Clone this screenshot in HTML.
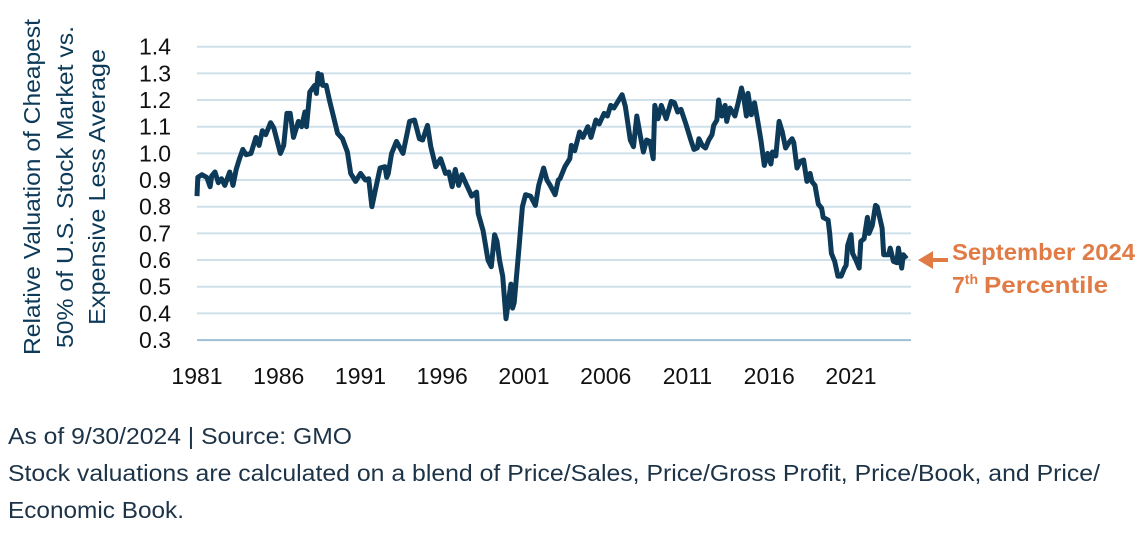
<!DOCTYPE html>
<html><head><meta charset="utf-8"><style>
body{margin:0;background:#fff;width:1148px;height:540px;overflow:hidden;font-family:"Liberation Sans Narrow","Liberation Sans",sans-serif;}
svg text{font-family:"Liberation Sans Narrow","Liberation Sans",sans-serif;}
</style></head><body>
<svg id="chart" width="1148" height="540">
<g id="grid"></g>
<g id="yt"></g>
<g id="xt"></g>
<path id="line" fill="none" stroke="#0c3a58" stroke-width="5" stroke-linejoin="round"/>
<g fill="#0c3a58" font-size="23" text-anchor="middle">
<text transform="translate(40,187) rotate(-90)" textLength="336" lengthAdjust="spacingAndGlyphs">Relative Valuation of Cheapest</text>
<text transform="translate(73,187) rotate(-90)" textLength="322" lengthAdjust="spacingAndGlyphs">50% of U.S. Stock Market vs.</text>
<text transform="translate(105,187) rotate(-90)" textLength="276" lengthAdjust="spacingAndGlyphs">Expensive Less Average</text>
</g>
<g>
<line x1="930" y1="260" x2="948" y2="260" stroke="#e07b45" stroke-width="4"/>
<polygon points="918,260 933,251 933,269" fill="#e07b45"/>
</g>
<text x="952" y="260" fill="#e07b45" font-size="23" font-weight="bold" textLength="183" lengthAdjust="spacingAndGlyphs">September 2024</text>
<text x="952" y="293" fill="#e07b45" font-size="23" font-weight="bold">7<tspan font-size="14" dy="-9">th</tspan><tspan dy="9" x="984" textLength="124" lengthAdjust="spacingAndGlyphs">Percentile</tspan></text>
<g fill="#1d3347" font-size="23">
<text x="8" y="444" textLength="344" lengthAdjust="spacingAndGlyphs">As of 9/30/2024 | Source: GMO</text>
<text x="8" y="481" textLength="1092" lengthAdjust="spacingAndGlyphs">Stock valuations are calculated on a blend of Price/Sales, Price/Gross Profit, Price/Book, and Price/</text>
<text x="8" y="518" textLength="176" lengthAdjust="spacingAndGlyphs">Economic Book.</text>
</g>
</svg>
<script>
const years=[1981.0,1981.05,1981.3,1981.6,1981.8,1981.9,1982.1,1982.3,1982.5,1982.7,1983.0,1983.2,1983.4,1983.6,1983.8,1984.0,1984.3,1984.6,1984.8,1985.0,1985.2,1985.5,1985.7,1986.1,1986.3,1986.5,1986.7,1986.9,1987.2,1987.4,1987.6,1987.7,1987.9,1988.2,1988.3,1988.4,1988.5,1988.6,1988.7,1988.9,1989.1,1989.3,1989.6,1989.9,1990.2,1990.4,1990.7,1991.0,1991.3,1991.5,1991.7,1991.9,1992.2,1992.5,1992.6,1992.7,1992.9,1993.2,1993.6,1994.0,1994.3,1994.6,1994.8,1995.1,1995.3,1995.6,1995.9,1996.2,1996.4,1996.6,1996.8,1997.0,1997.2,1997.5,1997.8,1998.1,1998.2,1998.5,1998.8,1999.0,1999.2,1999.35,1999.5,1999.7,1999.9,2000.0,2000.2,2000.3,2000.4,2000.7,2000.9,2001.1,2001.4,2001.7,2001.9,2002.2,2002.4,2002.6,2002.9,2003.1,2003.2,2003.5,2003.8,2003.9,2004.1,2004.4,2004.6,2004.9,2005.1,2005.4,2005.6,2005.9,2006.1,2006.3,2006.5,2006.8,2007.0,2007.2,2007.5,2007.7,2007.9,2008.1,2008.3,2008.5,2008.7,2008.9,2009.0,2009.2,2009.4,2009.7,2010.0,2010.2,2010.4,2010.6,2010.9,2011.2,2011.4,2011.6,2011.7,2011.9,2012.1,2012.3,2012.5,2012.6,2012.8,2012.9,2013.1,2013.3,2013.4,2013.6,2013.9,2014.1,2014.3,2014.45,2014.6,2014.7,2014.9,2015.1,2015.3,2015.5,2015.7,2015.9,2016.1,2016.2,2016.4,2016.6,2016.8,2017.0,2017.2,2017.4,2017.5,2017.7,2017.9,2018.1,2018.3,2018.5,2018.6,2018.8,2019.0,2019.2,2019.3,2019.6,2019.7,2019.8,2020.0,2020.2,2020.4,2020.6,2020.7,2020.8,2021.0,2021.1,2021.3,2021.5,2021.6,2021.8,2022.0,2022.1,2022.3,2022.5,2022.6,2022.9,2023.0,2023.3,2023.4,2023.6,2023.8,2023.9,2024.1,2024.2,2024.4];
const values=[0.84,0.91,0.92,0.91,0.875,0.915,0.93,0.89,0.905,0.88,0.93,0.88,0.94,0.98,1.015,0.995,1.0,1.06,1.03,1.085,1.07,1.115,1.095,1.0,1.03,1.15,1.15,1.06,1.12,1.1,1.155,1.1,1.23,1.255,1.225,1.30,1.26,1.295,1.255,1.255,1.2,1.15,1.075,1.055,1.005,0.925,0.895,0.925,0.9,0.905,0.80,0.86,0.945,0.95,0.91,0.925,1.0,1.045,1.0,1.12,1.125,1.055,1.05,1.105,1.025,0.95,0.98,0.925,0.93,0.875,0.94,0.88,0.92,0.88,0.84,0.855,0.775,0.71,0.6,0.575,0.695,0.67,0.6,0.54,0.38,0.425,0.51,0.42,0.44,0.65,0.80,0.845,0.84,0.805,0.88,0.945,0.9,0.88,0.845,0.9,0.905,0.95,0.98,1.03,1.01,1.08,1.06,1.10,1.06,1.125,1.11,1.15,1.14,1.18,1.17,1.2,1.22,1.175,1.05,1.025,1.14,1.07,1.005,1.05,1.045,0.98,1.18,1.13,1.18,1.13,1.195,1.19,1.155,1.165,1.11,1.05,1.015,1.02,1.055,1.03,1.02,1.05,1.07,1.105,1.125,1.2,1.14,1.18,1.12,1.17,1.14,1.19,1.245,1.205,1.14,1.225,1.145,1.19,1.12,1.045,0.955,1.0,0.96,1.005,0.99,1.12,1.08,1.02,1.04,1.055,1.04,0.945,0.97,0.975,0.895,0.925,0.895,0.88,0.81,0.795,0.76,0.75,0.70,0.625,0.595,0.54,0.54,0.57,0.58,0.655,0.695,0.625,0.60,0.57,0.67,0.68,0.76,0.70,0.73,0.805,0.80,0.72,0.62,0.62,0.645,0.595,0.59,0.645,0.57,0.62,0.605];
const yTicks=[0.3,0.4,0.5,0.6,0.7,0.8,0.9,1.0,1.1,1.2,1.3,1.4];
const xTicks=[1981,1986,1991,1996,2001,2006,2011,2016,2021];
const NS='http://www.w3.org/2000/svg';
const X=y=>197+(y-1981)*16.35;
const Y=v=>46.7+(1.4-v)*266.7;
const grid=document.getElementById('grid'),yt=document.getElementById('yt'),xt=document.getElementById('xt');
yTicks.forEach(v=>{
  const l=document.createElementNS(NS,'line');
  
  
  l.setAttribute('x1',197);l.setAttribute('x2',911);l.setAttribute('y1',Y(v));l.setAttribute('y2',Y(v));
  l.setAttribute('stroke',v===0.3?'#9fbfd6':'#cfe0ea');l.setAttribute('stroke-width',2);
  grid.appendChild(l);
  const t=document.createElementNS(NS,'text');
  
  
  t.setAttribute('x',171);t.setAttribute('y',Y(v)+8);t.setAttribute('text-anchor','end');
  t.setAttribute('font-size','23');t.setAttribute('fill','#111');
  t.textContent=v.toFixed(1);yt.appendChild(t);
});
xTicks.forEach(yr=>{
  const t=document.createElementNS(NS,'text');
  
  
  t.setAttribute('x',X(yr));t.setAttribute('y',384);t.setAttribute('text-anchor','middle');
  t.setAttribute('font-size','23');t.setAttribute('fill','#111');
  t.textContent=yr;xt.appendChild(t);
});
document.getElementById('line').setAttribute('d',years.map((yr,i)=>(i?'L':'M')+X(yr).toFixed(1)+','+Y(values[i]).toFixed(1)).join(''));
</script>
</body></html>
